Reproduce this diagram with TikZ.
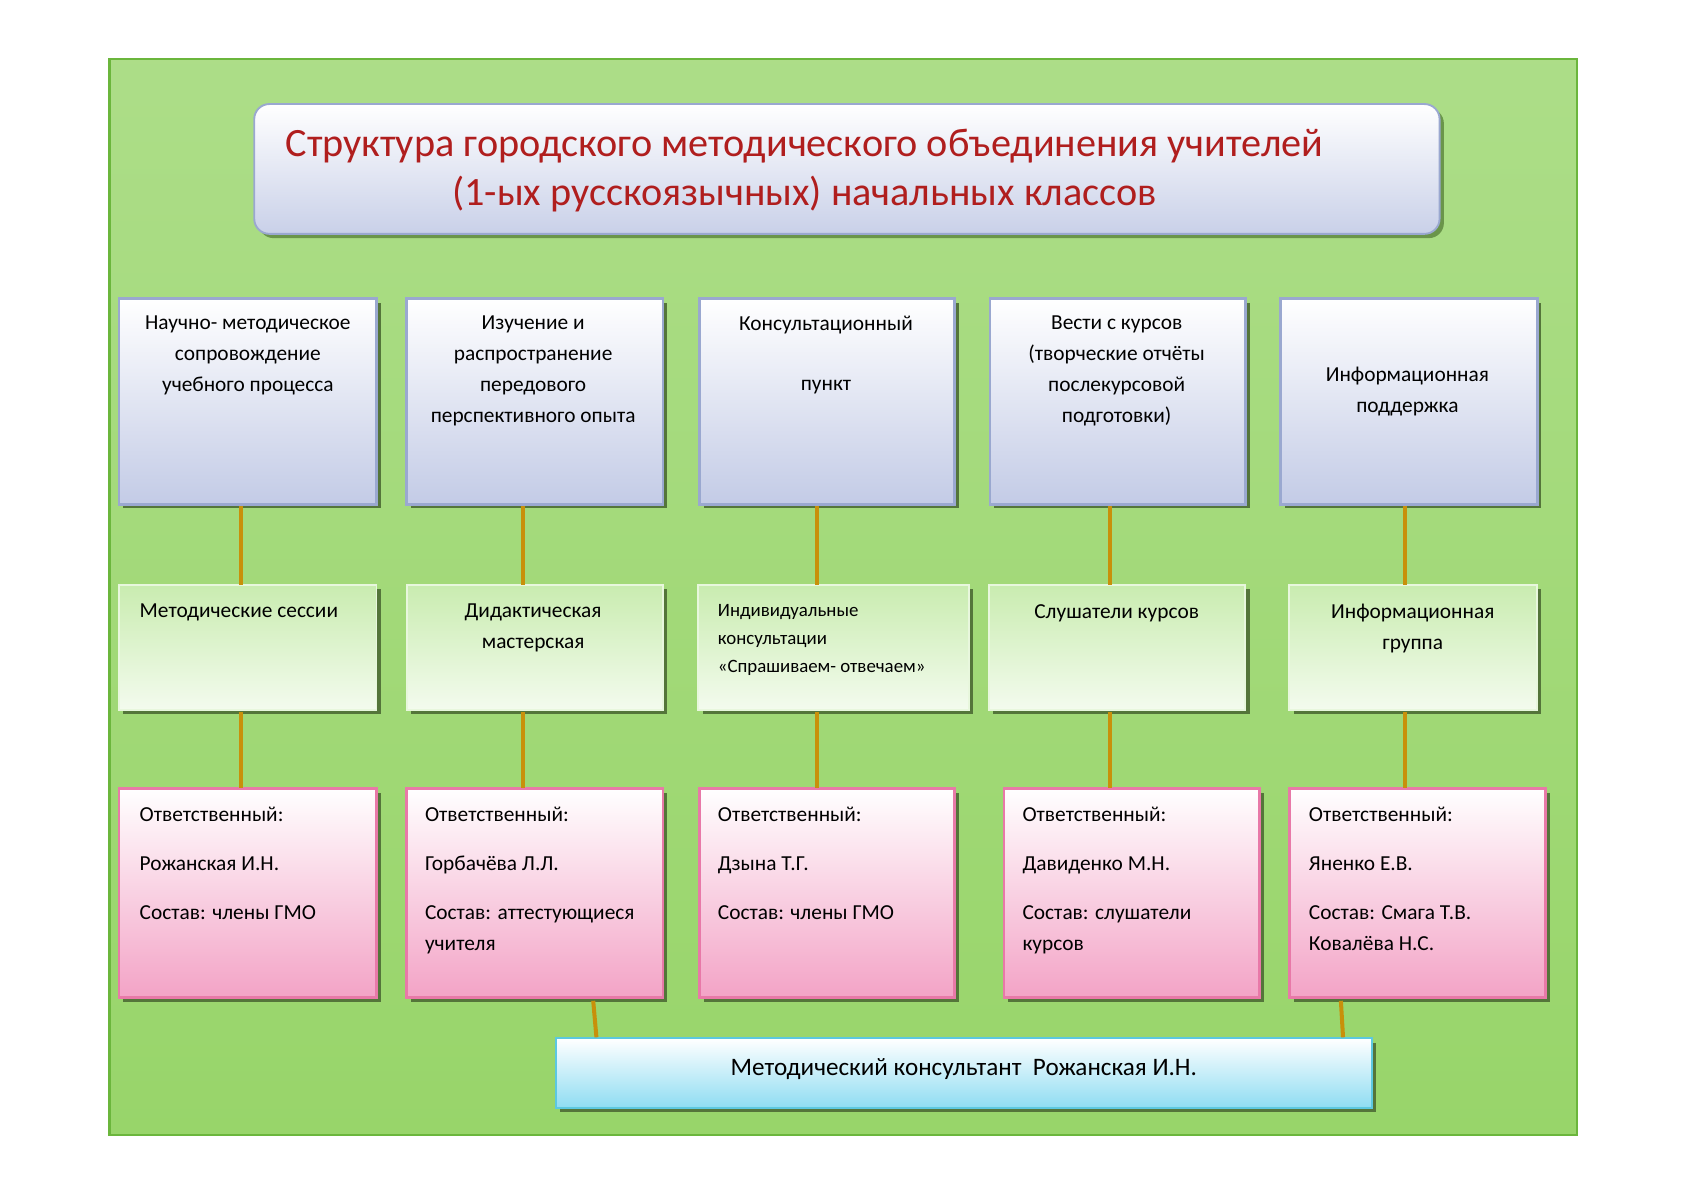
\documentclass[tikz,border=0pt]{standalone}
\usepackage{fontspec}
\setmainfont{Carlito}
\usetikzlibrary{calc}
\definecolor{bggreen}{HTML}{98D56A}
\definecolor{bgedge}{HTML}{6BB63C}
\definecolor{titlered}{HTML}{B01E1E}
\definecolor{linkbrown}{HTML}{C8900A}
\definecolor{blueedge}{HTML}{9AA8D0}
\definecolor{bluefill}{HTML}{C3CBE6}
\definecolor{greenfill}{HTML}{B2E48E}
\definecolor{pinkedge}{HTML}{E879A8}
\definecolor{pinkfill}{HTML}{F3A3C6}
\definecolor{cyanedge}{HTML}{5CC8E0}
\definecolor{cyanfill}{HTML}{8EDCF2}
\tikzset{
  topbox/.style={draw=blueedge, line width=2.2pt, top color=white, bottom color=bluefill},
  midbox/.style={draw=white!70!greenfill, line width=1.5pt, top color=greenfill!70, bottom color=white!85!greenfill},
  lowbox/.style={draw=pinkedge, line width=2.2pt, top color=white, bottom color=pinkfill},
  headbox/.style={draw=blueedge, line width=1.5pt, rounded corners=12pt, top color=white, bottom color=bluefill!90},
  chiefbox/.style={draw=cyanedge, line width=1.5pt, top color=white, bottom color=cyanfill},
  txt/.style={inner sep=0pt, align=center, font=\fontsize{17}{24.7}\selectfont},
  ltxt/.style={inner sep=0pt, align=left, anchor=north west, font=\fontsize{17}{24.7}\selectfont},
  link/.style={linkbrown, line width=3.2pt}
}
% box from corner (x1,y1) to corner (x2,y2), picture pixels, with a shadow
\newcommand{\boxat}[6]{%
  \fill[black!45!bggreen] ({#2+4},{#3+4}) rectangle ({#4+4},{#5+4});
  \node[#6, minimum width={(#4-#2)*0.3mm}, minimum height={(#5-#3)*0.3mm}, inner sep=0pt]
    (#1) at ({(#2+#4)/2},{(#3+#5)/2}) {};}
\begin{document}
\begin{tikzpicture}[x=0.3mm,y=-0.3mm]
  \useasboundingbox (0,0) rectangle (1568,1109);
  \fill[white] (0,0) rectangle (1568,1109);
  \draw[bgedge, line width=2pt, top color=bggreen!80!white, bottom color=bggreen] (102,55) rectangle (1470,1058);

  % title
  \fill[black!30!bggreen, rounded corners=12pt] (241,101) rectangle (1346,222);
  \node[headbox, minimum width={1105*0.3mm}, minimum height={121*0.3mm}, inner sep=0pt] (head) at (789.5,157.5) {};
  \node[txt, anchor=north, text=titlered, font=\fontsize{32}{39}\selectfont]
    at (750,120) {Структура городского методического объединения учителей\\(1-ых русскоязычных) начальных классов};

  % top row
  \boxat{t1}{111}{278}{351}{470}{topbox}
  \boxat{t2}{379}{278}{618}{470}{topbox}
  \boxat{t3}{652}{278}{890}{470}{topbox}
  \boxat{t4}{923}{278}{1161}{470}{topbox}
  \boxat{t5}{1194}{278}{1433}{470}{topbox}
  \node[txt, anchor=north] at (231,294) {Научно- методическое\\сопровождение\\учебного процесса};
  \node[txt, anchor=north] at (497,294) {Изучение и\\распространение\\передового\\перспективного опыта};
  \node[txt, anchor=north, font=\fontsize{17}{48}\selectfont] at (770,294) {Консультационный\\пункт};
  \node[txt, anchor=north] at (1041,294) {Вести с курсов\\(творческие отчёты\\послекурсовой\\подготовки)};
  \node[txt, anchor=north] at (1312,342) {Информационная\\поддержка};

  % middle row
  \boxat{m1}{111}{545}{351}{662}{midbox}
  \boxat{m2}{379}{545}{618}{662}{midbox}
  \boxat{m3}{651}{545}{903}{662}{midbox}
  \boxat{m4}{922}{545}{1161}{662}{midbox}
  \boxat{m5}{1202}{545}{1433}{662}{midbox}
  \node[ltxt] at (130,563) {Методические сессии};
  \node[txt, anchor=north] at (497,563) {Дидактическая\\мастерская};
  \node[ltxt, font=\fontsize{15}{22.5}\selectfont] at (669,563) {Индивидуальные\\консультации\\«Спрашиваем- отвечаем»};
  \node[txt, anchor=north] at (1041,563) {Слушатели курсов};
  \node[txt, anchor=north] at (1317,563) {Информационная\\группа};

  % bottom row
  \boxat{b1}{111}{735}{351}{930}{lowbox}
  \boxat{b2}{379}{735}{618}{930}{lowbox}
  \boxat{b3}{652}{735}{890}{930}{lowbox}
  \boxat{b4}{936}{735}{1174}{930}{lowbox}
  \boxat{b5}{1202}{735}{1441}{930}{lowbox}
  \node[ltxt] at (130,752) {Ответственный:\\[5mm]Рожанская И.Н.\\[5mm]Состав: члены ГМО};
  \node[ltxt] at (396,752) {Ответственный:\\[5mm]Горбачёва Л.Л.\\[5mm]Состав: аттестующиеся\\учителя};
  \node[ltxt] at (669,752) {Ответственный:\\[5mm]Дзына Т.Г.\\[5mm]Состав: члены ГМО};
  \node[ltxt] at (953,752) {Ответственный:\\[5mm]Давиденко М.Н.\\[5mm]Состав: слушатели\\курсов};
  \node[ltxt] at (1220,752) {Ответственный:\\[5mm]Яненко Е.В.\\[5mm]Состав: Смага Т.В.\\Ковалёва Н.С.};

  % consultant
  \boxat{chief}{518}{968}{1279}{1033}{chiefbox}
  \node[txt, font=\fontsize{20}{22}\selectfont] at ($(chief)+(0,-4)$) {Методический консультант\ \ Рожанская И.Н.};

  % links
  \foreach \i/\x in {1/225,2/488,3/762,4/1035,5/1310} {
    \draw[link] (\x,472) -- (\x,545);
    \draw[link] (\x,664) -- (\x,735);
  }
  \draw[link] (553,933) -- (556,967);
  \draw[link] (1250,933) -- (1252,967);
\end{tikzpicture}
\end{document}
